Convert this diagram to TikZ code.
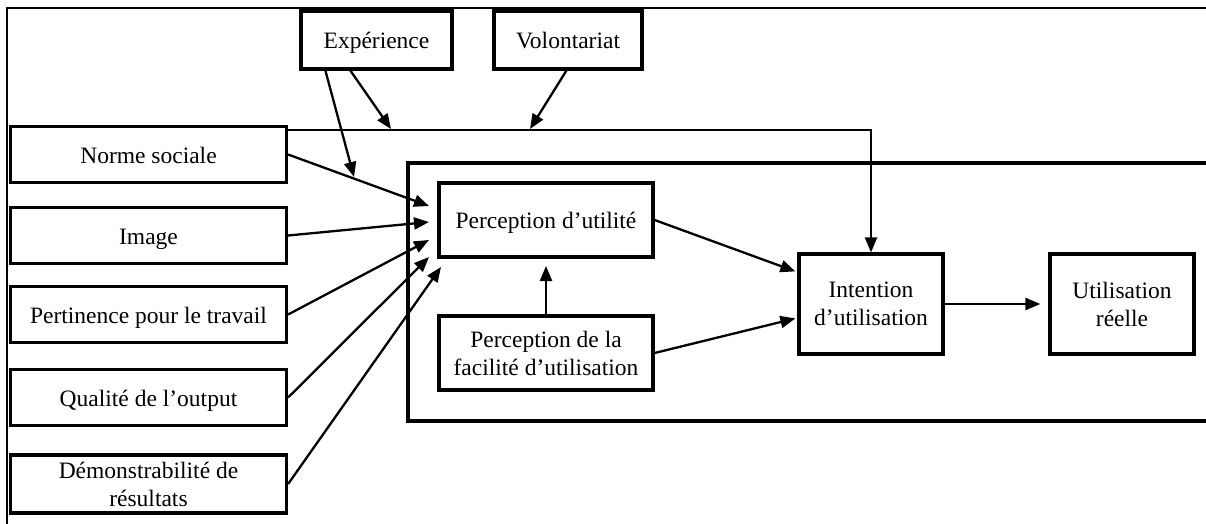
\documentclass[tikz,border=0pt]{standalone}
\usepackage{fontspec}
\setmainfont{Liberation Serif}
\usetikzlibrary{arrows.meta,calc}
\begin{document}
\begin{tikzpicture}[x=1pt,y=-1pt,
  box/.style={draw,line width=3.2pt,inner sep=0pt,align=center,
    font=\fontsize{23.5}{28}\selectfont},
  oneline/.style={text height=20pt,text depth=3pt},
  arr/.style={line width=2.3pt,-{Triangle[length=15pt,width=12pt]}},
  frame/.style={line width=1.2pt}]
\useasboundingbox (0,0) rectangle (1206,523);

% outer frame (top and left edges)
\draw[frame] (6,8) -- (1215,8);
\draw[frame] (7,8) -- (7,530);

% moderators
\node[box,oneline,minimum width=151pt,minimum height=58pt] (exp) at (376.5,40) {Expérience};
\node[box,oneline,minimum width=148pt,minimum height=58pt] (vol) at (568,40) {Volontariat};

% determinants of perceived usefulness
\node[box,oneline,minimum width=276pt,minimum height=56pt] (ns)   at (148.5,154.5) {Norme sociale};
\node[box,oneline,minimum width=276pt,minimum height=56pt] (img)  at (148.5,235.5) {Image};
\node[box,oneline,minimum width=276pt,minimum height=56pt] (pert) at (148.5,314.5) {Pertinence pour le travail};
\node[box,oneline,minimum width=276pt,minimum height=56pt] (qual) at (148.5,397.5) {Qualité de l’output};
\node[box,minimum width=276pt,minimum height=58pt] (demo) at (148.5,484) {Démonstrabilité de\\résultats};

% core model frame
\draw[line width=3.2pt] (408,163) rectangle (1220,421);

\node[box,oneline,minimum width=214pt,minimum height=74pt] (pu)  at (546,220) {Perception d’utilité};
\node[box,minimum width=214pt,minimum height=74pt] (fac) at (546,353) {Perception de la\\facilité d’utilisation};
\node[box,minimum width=144pt,minimum height=100pt] (int) at (871,304) {Intention\\d’utilisation};
\node[box,minimum width=144pt,minimum height=100pt] (use) at (1122,304) {Utilisation\\réelle};

% free arrow tips
\coordinate (e1) at (354,177);
\coordinate (e2) at (391,129);
\coordinate (v1) at (530,129);
\coordinate (t1) at (429,206);
\coordinate (t2) at (429,222);
\coordinate (t3) at (429,240);
\coordinate (t4) at (429,257);
\coordinate (t5) at (441,267);
\coordinate (tpu) at (546,266);

% moderator arrows
\draw[arr] ($(exp.south west)+(26,0)$) -- (e1);
\draw[arr] ($(exp.south west)+(51,0)$) -- (e2);
\draw[arr] ($(vol.south west)+(74,0)$) -- (v1);

% social norm to intention
\draw[arr] ($(ns.north east)+(0,5)$) -| (int.north);

% inputs to perceived usefulness
\draw[arr] (ns.east) -- (t1);
\draw[arr] (img.east) -- (t2);
\draw[arr] (pert.east) -- (t3);
\draw[arr] (qual.east) -- (t4);
\draw[arr] (demo.east) -- (t5);

% core relations
\draw[arr] (fac.north) -- (tpu);
\draw[arr] (pu.east) -- ($(int.north west)+(-2,19)$);
\draw[arr] (fac.east) -- ($(int.north west)+(-2,66)$);
\draw[arr,shorten >=8pt] (int.east) -- (use.west);
\end{tikzpicture}
\end{document}
